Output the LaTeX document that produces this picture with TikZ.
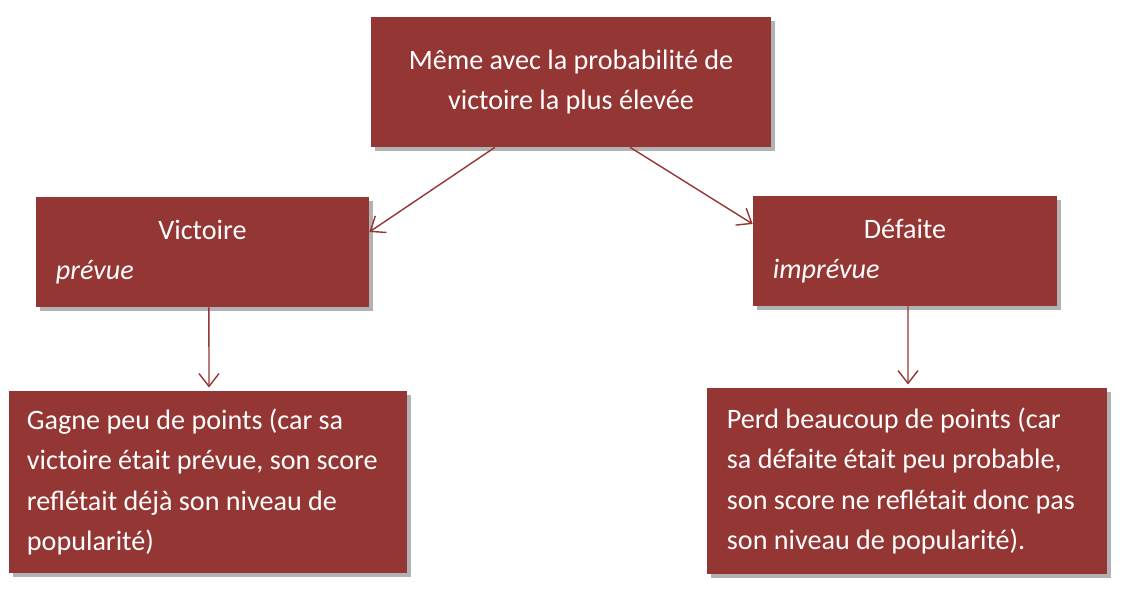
\documentclass[tikz,border=0pt]{standalone}
\usepackage{fontspec}
\setmainfont{Carlito}
\usetikzlibrary{arrows.meta,shadows}
\definecolor{boxred}{RGB}{148,54,52}
\begin{document}
\begin{tikzpicture}[x=0.025cm,y=-0.025cm,
	box/.style={rectangle,fill=boxred,text=white,draw=none,
		drop shadow={shadow xshift=0.09cm,shadow yshift=-0.09cm,fill=black,opacity=0.3},
		font=\fontsize{20}{28.5}\selectfont},
	link/.style={draw=boxred,line width=1pt,-{Straight Barb[length=3.2mm,width=5mm]}}]
\useasboundingbox (0,0) rectangle (1124,591);
\node[box,minimum width=10cm,minimum height=3.25cm,align=center] (top) at (571,82)
	{Même avec la probabilité de\\victoire la plus élevée};
\node[box,minimum width=8.325cm,minimum height=2.75cm,inner xsep=0.5cm,text width=7.325cm] (vic) at (202.5,252)
	{{\centering Victoire\par}\textit{prévue}};
\node[box,minimum width=7.6cm,minimum height=2.75cm,inner xsep=0.5cm,text width=6.6cm] (def) at (905,251)
	{{\centering Défaite\par}\textit{imprévue}};
\node[box,minimum width=9.95cm,minimum height=4.55cm,inner xsep=0.45cm,text width=9.05cm,align=flush left] (gagne) at (208,482)
	{Gagne peu de points (car sa\\victoire était prévue, son score\\reflétait déjà son niveau de\\popularité)};
\node[box,minimum width=10cm,minimum height=4.65cm,inner xsep=0.5cm,text width=9cm,align=flush left] (perd) at (907,481)
	{Perd beaucoup de points (car\\sa défaite était peu probable,\\son score ne reflétait donc pas\\son niveau de popularité).};
\draw[link] ([xshift=-1.9cm]top.south) -- ([yshift=0.5cm]vic.east);
\draw[link] ([xshift=1.475cm]top.south) -- ([yshift=0.675cm]def.west);
\draw[link] ([xshift=0.16cm]vic.south) -- ([xshift=0.025cm,yshift=0.08cm]gagne.north);
\draw[link] ([xshift=0.075cm]def.south) -- ([xshift=0.025cm,yshift=0.08cm]perd.north);
\end{tikzpicture}
\end{document}
